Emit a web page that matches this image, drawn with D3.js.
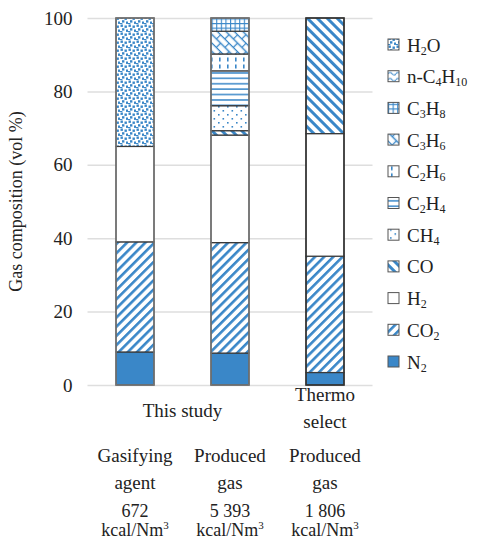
<!DOCTYPE html>
<html>
<head>
<meta charset="utf-8">
<script src="https://cdn.jsdelivr.net/npm/d3@7"></script>
<style>
  body { margin: 0; background: #fff; }
  svg text { font-family: "Liberation Serif", "Times New Roman", serif; fill: #222; }
</style>
</head>
<body>
<div id="chart"></div>
<script>
// categorias (uma por barra)
const grupos = ["Gasifying agent", "Produced gas", "Thermo select"];

// valores de cada gás, em vol %, na ordem das barras
const N2      = [9.0, 8.7, 3.4];
const CO2     = [30.0, 30.1, 31.7];
const H2      = [26.0, 29.3, 33.4];
const CO      = [0, 1.2, 31.5];
const CH4     = [0, 6.8, 0];
const C2H4    = [0, 9.5, 0];
const C2H6    = [0, 4.6, 0];
const C3H6    = [0, 6.2, 0];
const C3H8    = [0, 3.6, 0];
const nC4H10  = [0, 0, 0];
const H2O     = [35.0, 0, 0];

const yTicks = [0, 20, 40, 60, 80, 100];

// nomes das séries, de baixo para cima; partes com true são subscrito
const series = [
  { key: "N2", vals: N2, nome: [["N"], ["2", true]] },
  { key: "CO2", vals: CO2, nome: [["CO"], ["2", true]] },
  { key: "H2", vals: H2, nome: [["H"], ["2", true]] },
  { key: "CO", vals: CO, nome: [["CO"]] },
  { key: "CH4", vals: CH4, nome: [["CH"], ["4", true]] },
  { key: "C2H4", vals: C2H4, nome: [["C"], ["2", true], ["H"], ["4", true]] },
  { key: "C2H6", vals: C2H6, nome: [["C"], ["2", true], ["H"], ["6", true]] },
  { key: "C3H6", vals: C3H6, nome: [["C"], ["3", true], ["H"], ["6", true]] },
  { key: "C3H8", vals: C3H8, nome: [["C"], ["3", true], ["H"], ["8", true]] },
  { key: "nC4H10", vals: nC4H10, nome: [["n-C"], ["4", true], ["H"], ["10", true]] },
  { key: "H2O", vals: H2O, nome: [["H"], ["2", true], ["O"]] }
];

// rótulos debaixo das barras
const rotuloEstudo = [{ linhas: ["This study"], centro: [0, 1], y: 417 },
                      { linhas: ["Thermo", "select"], centro: [2, 2], y: 401 }];
const rotuloTipo = [["Gasifying", "agent"], ["Produced", "gas"], ["Produced", "gas"]];
const poderCalorifico = ["672", "5 393", "1 806"];

const azul = "#3a87c8";
const width = 481, height = 542;

const svg = d3.select("#chart").append("svg")
    .attr("width", width)
    .attr("height", height);

// padrões de preenchimento
const defs = svg.append("defs");
function padrao(id, w, h, desenha, rot) {
  const p = defs.append("pattern")
      .attr("id", id)
      .attr("patternUnits", "userSpaceOnUse")
      .attr("width", w)
      .attr("height", h);
  if (rot) p.attr("patternTransform", `rotate(${rot})`);
  p.append("rect").attr("width", w).attr("height", h).attr("fill", "#fff");
  desenha(p);
}
padrao("p-N2", 4, 4, p => p.append("rect").attr("width", 4).attr("height", 4).attr("fill", azul));
padrao("p-CO2", 6.5, 6.5, p => p.append("rect").attr("width", 2.6).attr("height", 6.5).attr("fill", azul), 45);
padrao("p-H2", 4, 4, () => {});
padrao("p-CO", 7, 7, p => p.append("rect").attr("width", 3).attr("height", 7).attr("fill", azul), -45);
padrao("p-CH4", 9, 8, p => {
  p.append("rect").attr("x", 2).attr("y", 2).attr("width", 1.6).attr("height", 1.6).attr("fill", azul);
  p.append("rect").attr("x", 6.5).attr("y", 6).attr("width", 1.6).attr("height", 1.6).attr("fill", azul);
});
padrao("p-C2H4", 6, 5.4, p => p.append("rect").attr("y", 2).attr("width", 6).attr("height", 1.5).attr("fill", azul));
padrao("p-C2H6", 8, 7, p => p.append("rect").attr("x", 3).attr("y", 1.5).attr("width", 1.6).attr("height", 4).attr("fill", azul));
padrao("p-C3H6", 12, 12, p => {
  p.append("path")
      .attr("d", "M0,0.5H12M0,6.5H12M0.5,0V6.5M6.5,6.5V12")
      .attr("stroke", azul).attr("stroke-width", 1.3).attr("fill", "none");
}, 45);
padrao("p-C3H8", 4.6, 4.6, p => {
  p.append("path").attr("d", "M0,0.5H4.6M0.5,0V4.6")
      .attr("stroke", azul).attr("stroke-width", 1.2).attr("fill", "none");
});
padrao("p-nC4H10", 8, 6, p => {
  p.append("path").attr("d", "M0,3 Q2,0.5 4,3 T8,3")
      .attr("stroke", azul).attr("stroke-width", 1.2).attr("fill", "none");
});
padrao("p-H2O", 8, 8, p => {
  [[0.5, 0.5], [4.5, 1.5], [2, 4.2], [6, 5.5], [0, 7]].forEach(([x, y]) =>
    p.append("rect").attr("x", x).attr("y", y).attr("width", 2.4).attr("height", 2.4).attr("fill", azul));
});

// escalas
const x = d3.scaleBand()
    .domain(grupos)
    .range([87.5, 372.5])
    .paddingInner(0.6)
    .paddingOuter(0.3);

const y = d3.scaleLinear()
    .domain([0, 100])
    .range([385, 18]);

// linhas de grade e rótulos do eixo y
const eixoY = svg.append("g")
    .attr("transform", "translate(87.5,0)")
    .call(d3.axisLeft(y).tickValues(yTicks).tickSize(-285).tickPadding(15));
eixoY.attr("font-family", null);
eixoY.select(".domain").remove();
eixoY.selectAll(".tick line").attr("stroke", "#dedede").attr("stroke-width", 1.5);
eixoY.selectAll(".tick text")
    .attr("font-size", 19)
    .attr("fill", "#222");

svg.append("text")
    .attr("transform", `translate(22,${y(50)}) rotate(-90)`)
    .attr("text-anchor", "middle")
    .attr("font-size", 18)
    .text("Gas composition (vol %)");

// empilhamento
const tabela = grupos.map((g, i) => {
  const linha = { grupo: g };
  series.forEach(s => linha[s.key] = s.vals[i]);
  return linha;
});
const pilha = d3.stack().keys(series.map(s => s.key))(tabela);

const camadas = svg.append("g")
    .selectAll("g")
    .data(pilha)
    .join("g")
    .attr("fill", d => `url(#p-${d.key})`);

camadas.selectAll("rect")
    .data(d => d.filter(v => v[1] - v[0] > 0))
    .join("rect")
    .attr("x", d => x(d.data.grupo))
    .attr("y", d => y(d[1]))
    .attr("width", x.bandwidth())
    .attr("height", d => y(d[0]) - y(d[1]))
    .attr("stroke", "#3a3a3a")
    .attr("stroke-width", 1.2);

// contorno de cada barra
svg.append("g")
    .selectAll("rect")
    .data(grupos)
    .join("rect")
    .attr("x", d => x(d))
    .attr("y", y(100))
    .attr("width", x.bandwidth())
    .attr("height", y(0) - y(100))
    .attr("fill", "none")
    .attr("stroke", (d, i) => i === 2 ? "#333" : "#777")
    .attr("stroke-width", 1.5);

// legenda (de cima para baixo)
const legenda = svg.append("g")
    .selectAll("g")
    .data(series.slice().reverse())
    .join("g")
    .attr("transform", (d, i) => `translate(388,${45 + i * 31.7})`);

legenda.append("rect")
    .attr("x", 0)
    .attr("y", -6)
    .attr("width", 11)
    .attr("height", 11)
    .attr("fill", d => `url(#p-${d.key})`)
    .attr("stroke", "#555")
    .attr("stroke-width", 1);

const textoLeg = legenda.append("text")
    .attr("x", 19)
    .attr("y", 6.5)
    .attr("font-size", 19);
textoLeg.each(function(d) {
  const t = d3.select(this);
  let desloc = 0;
  d.nome.forEach(([parte, sub]) => {
    const alvo = sub ? 3 : 0;
    t.append("tspan")
        .attr("font-size", sub ? 12 : 19)
        .attr("dy", alvo - desloc)
        .text(parte);
    desloc = alvo;
  });
});

// rótulos debaixo das barras
const centroDe = i => x(grupos[i]) + x.bandwidth() / 2;

rotuloEstudo.forEach(r => {
  const cx = (centroDe(r.centro[0]) + centroDe(r.centro[1])) / 2;
  r.linhas.forEach((l, j) => {
    svg.append("text")
        .attr("x", cx)
        .attr("y", r.y + j * 27)
        .attr("text-anchor", "middle")
        .attr("font-size", 19)
        .text(l);
  });
});

rotuloTipo.forEach((linhas, i) => {
  linhas.forEach((l, j) => {
    svg.append("text")
        .attr("x", centroDe(i))
        .attr("y", 462 + j * 27)
        .attr("text-anchor", "middle")
        .attr("font-size", 19)
        .text(l);
  });
});

poderCalorifico.forEach((v, i) => {
  svg.append("text")
      .attr("x", centroDe(i))
      .attr("y", 517)
      .attr("text-anchor", "middle")
      .attr("font-size", 18)
      .text(v);
  const u = svg.append("text")
      .attr("x", centroDe(i))
      .attr("y", 536)
      .attr("text-anchor", "middle")
      .attr("font-size", 18);
  u.append("tspan").text("kcal/Nm");
  u.append("tspan").attr("font-size", 11).attr("dy", -7).text("3");
});
</script>
</body>
</html>
